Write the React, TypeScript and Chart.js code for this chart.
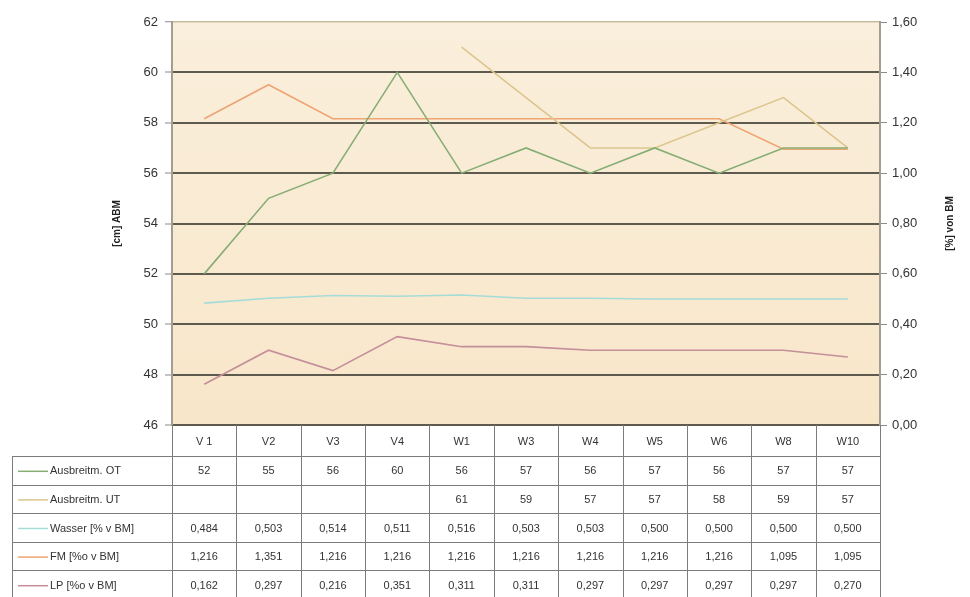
import React, { useEffect, useRef } from "react";
import { Chart, registerables } from "chart.js";

Chart.register(...registerables);

const categories = ["V 1", "V2", "V3", "V4", "W1", "W3", "W4", "W5", "W6", "W8", "W10"];
const ausbreitOT = [52, 55, 56, 60, 56, 57, 56, 57, 56, 57, 57];
const ausbreitUT = [null, null, null, null, 61, 59, 57, 57, 58, 59, 57];
const wasser = [0.484, 0.503, 0.514, 0.511, 0.516, 0.503, 0.503, 0.5, 0.5, 0.5, 0.5];
const fm = [1.216, 1.351, 1.216, 1.216, 1.216, 1.216, 1.216, 1.216, 1.216, 1.095, 1.095];
const lp = [0.162, 0.297, 0.216, 0.351, 0.311, 0.311, 0.297, 0.297, 0.297, 0.297, 0.27];

const seriesNames = ["Ausbreitm. OT", "Ausbreitm. UT", "Wasser [% v BM]", "FM [%o v BM]", "LP [%o v BM]"];
const seriesColors = ["#86ad74", "#dcc68e", "#a6dcd8", "#efa474", "#c48e9a"];
const leftTitle = "[cm] ABM";
const rightTitle = "[%] von BM";

const FONT = "Arial, 'Liberation Sans', sans-serif";

const fmtComma = (v: number, d: number) => v.toFixed(d).replace(".", ",");

const tablePlugin = {
  id: "tablePlugin",
  beforeDraw(chart: any) {
    const { ctx, chartArea } = chart;
    const g = ctx.createLinearGradient(0, chartArea.top, 0, chartArea.bottom);
    g.addColorStop(0, "#faefdc");
    g.addColorStop(1, "#f8e6c9");
    ctx.save();
    ctx.fillStyle = g;
    ctx.fillRect(chartArea.left, chartArea.top, chartArea.right - chartArea.left, chartArea.bottom - chartArea.top);
    ctx.restore();
  },
  afterDraw(chart: any) {
    const { ctx, chartArea } = chart;
    const n = categories.length;
    const left = chartArea.left;
    const right = chartArea.right;
    const colW = (right - left) / n;
    const headerTop = chartArea.bottom;
    const headerH = 31;
    const rowH = 28.6;
    const legendLeft = 12;
    const headerBottom = headerTop + headerH;
    const tableBottom = headerBottom + rowH * 5;

    ctx.save();
    ctx.strokeStyle = "#7c7c7c";
    ctx.lineWidth = 1;
    ctx.beginPath();
    for (let r = 0; r <= 5; r++) {
      const y = Math.round(headerBottom + r * rowH) + 0.5;
      ctx.moveTo(legendLeft, y);
      ctx.lineTo(right, y);
    }
    for (let c = 0; c <= n; c++) {
      const x = Math.round(left + c * colW) + 0.5;
      ctx.moveTo(x, headerTop);
      ctx.lineTo(x, tableBottom);
    }
    ctx.moveTo(legendLeft + 0.5, headerBottom);
    ctx.lineTo(legendLeft + 0.5, tableBottom);
    ctx.stroke();

    ctx.fillStyle = "#333";
    ctx.font = `11px ${FONT}`;
    ctx.textAlign = "center";
    ctx.textBaseline = "middle";
    categories.forEach((c, i) => {
      const x = chart.scales.x.getPixelForValue(i);
      ctx.fillText(c, x, headerTop + headerH / 2 + 1);
    });

    const rows = [
      ausbreitOT.map((v) => (v == null ? "" : String(v))),
      ausbreitUT.map((v) => (v == null ? "" : String(v))),
      wasser.map((v) => fmtComma(v, 3)),
      fm.map((v) => fmtComma(v, 3)),
      lp.map((v) => fmtComma(v, 3)),
    ];
    rows.forEach((vals, r) => {
      const y = headerBottom + r * rowH + rowH / 2 + 1;
      ctx.strokeStyle = seriesColors[r];
      ctx.lineWidth = 1.5;
      ctx.beginPath();
      ctx.moveTo(18, y);
      ctx.lineTo(48, y);
      ctx.stroke();
      ctx.fillStyle = "#333";
      ctx.textAlign = "left";
      ctx.fillText(seriesNames[r], 50, y);
      ctx.textAlign = "center";
      vals.forEach((t, i) => {
        const x = chart.scales.x.getPixelForValue(i);
        ctx.fillText(t, x, y);
      });
    });

    ctx.fillStyle = "#222";
    ctx.font = `bold 10px ${FONT}`;
    const midY = (chartArea.top + chartArea.bottom) / 2;
    ctx.save();
    ctx.translate(117, midY);
    ctx.rotate(-Math.PI / 2);
    ctx.textAlign = "center";
    ctx.fillText(leftTitle, 0, 0);
    ctx.restore();
    ctx.save();
    ctx.translate(950, midY);
    ctx.rotate(-Math.PI / 2);
    ctx.textAlign = "center";
    ctx.fillText(rightTitle, 0, 0);
    ctx.restore();
    ctx.restore();
  },
};

export default function App() {
  const ref = useRef<HTMLCanvasElement | null>(null);
  useEffect(() => {
    document.body.style.margin = "0";
    const canvas = ref.current;
    if (!canvas) return;
    const mk = (label: string, data: any[], color: string, axis: string) => ({
      label,
      data,
      borderColor: color,
      backgroundColor: color,
      borderWidth: 1.6,
      pointRadius: 0,
      tension: 0,
      yAxisID: axis,
      spanGaps: false,
    });
    const chart = new Chart(canvas, {
      type: "line",
      data: {
        labels: categories,
        datasets: [
          mk(seriesNames[0], ausbreitOT, seriesColors[0], "yL"),
          mk(seriesNames[1], ausbreitUT, seriesColors[1], "yL"),
          mk(seriesNames[2], wasser, seriesColors[2], "yR"),
          mk(seriesNames[3], fm, seriesColors[3], "yR"),
          mk(seriesNames[4], lp, seriesColors[4], "yR"),
        ],
      },
      options: {
        animation: false,
        responsive: false,
        maintainAspectRatio: false,
        devicePixelRatio: 1,
        layout: { padding: { top: 22, left: 0, right: 0, bottom: 0 } },
        plugins: { legend: { display: false }, tooltip: { enabled: false }, title: { display: false } },
        scales: {
          x: {
            offset: true,
            grid: { display: false, offset: true },
            border: { display: false },
            ticks: { display: false },
            afterFit: (s: any) => {
              s.height = 172;
            },
          },
          yL: {
            position: "left",
            min: 46,
            max: 62,
            ticks: {
              stepSize: 2,
              color: "#333",
              font: { family: FONT, size: 13 },
              padding: 7,
            },
            grid: {
              color: (c: any) => (c.tick && c.tick.value === 62 ? "#c9bba0" : "#5f5a4e"),
              lineWidth: (c: any) => (c.tick && c.tick.value === 62 ? 1.5 : 2),
              tickLength: 7,
              tickColor: "#8a8a8a",
              tickWidth: 1,
            },
            border: { color: "#a39d92", width: 2 },
            afterFit: (s: any) => {
              s.width = 172;
            },
          },
          yR: {
            position: "right",
            min: 0,
            max: 1.6,
            ticks: {
              stepSize: 0.2,
              color: "#333",
              font: { family: FONT, size: 13 },
              padding: 5,
              callback: (v: any) => fmtComma(Number(v), 2),
            },
            grid: {
              drawOnChartArea: false,
              tickLength: 7,
              tickColor: "#8a8a8a",
              tickWidth: 1,
            },
            border: { color: "#a39d92", width: 2 },
            afterFit: (s: any) => {
              s.width = 90;
            },
          },
        },
      },
      plugins: [tablePlugin],
    });
    return () => chart.destroy();
  }, []);
  return (
    <div style={{ width: 970, height: 597 }}>
      <canvas ref={ref} width={970} height={597} style={{ display: "block" }} />
    </div>
  );
}
